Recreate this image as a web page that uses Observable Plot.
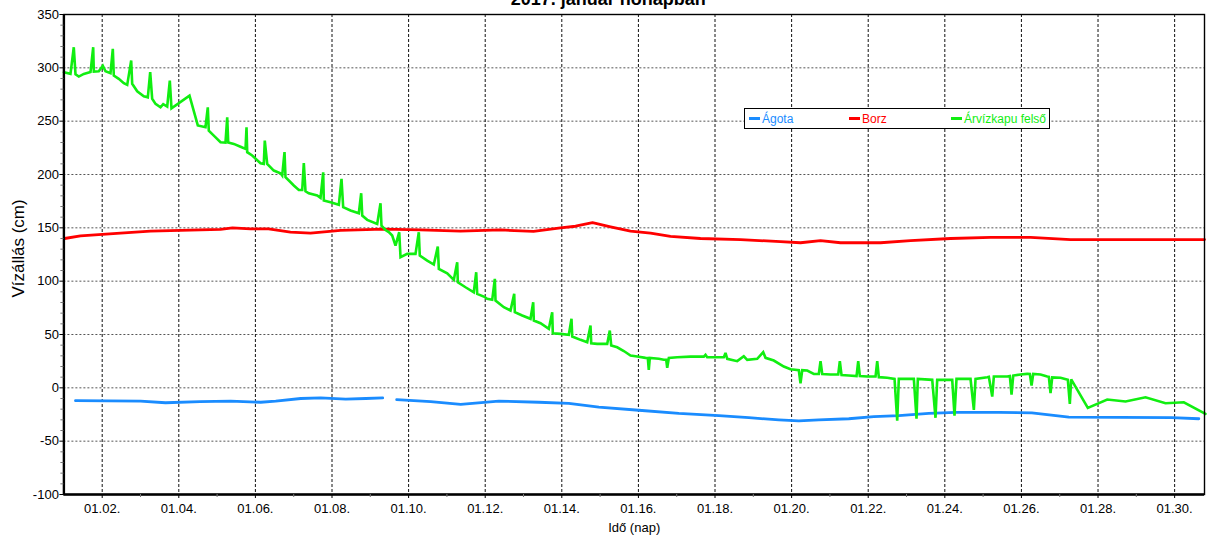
<!DOCTYPE html>
<html><head><meta charset="utf-8">
<script src="https://cdn.jsdelivr.net/npm/d3@7"></script>
<script src="https://cdn.jsdelivr.net/npm/@observablehq/plot@0.6"></script>
<style>
html,body{margin:0;padding:0;background:#fff;}
#wrap{position:relative;width:1208px;height:537px;overflow:hidden;}
#legend{position:absolute;left:744px;top:108px;width:306px;height:21px;border:1px solid #000;background:#fff;box-sizing:border-box;font:12px "Liberation Sans",Arial,sans-serif;}
.item{position:absolute;top:1px;height:19px;line-height:19px;white-space:nowrap;}
.sw{display:inline-block;width:11px;height:3px;vertical-align:middle;margin-right:2px;position:relative;top:-1px;}
</style></head>
<body><div id="wrap"><div id="legend"></div></div>
<script>
const title = "2017. január hónapban";
const yLabel = "Vízállás (cm)";
const xLabel = "Idő (nap)";
const seriesNames = ["Ágota", "Borz", "Árvízkapu felső"];
const seriesColors = ["#1a8cff", "#ff0000", "#11ee11"];

const xTicks = [2,4,6,8,10,12,14,16,18,20,22,24,26,28,30];
const xTickLabels = ["01.02.","01.04.","01.06.","01.08.","01.10.","01.12.","01.14.","01.16.","01.18.","01.20.","01.22.","01.24.","01.26.","01.28.","01.30."];
const xMinorTicks = [3,5,7,9,11,13,15,17,19,21,23,25,27,29];
const yTicks = [-100,-50,0,50,100,150,200,250,300,350];
const yTickLabels = ["-100","-50","0","50","100","150","200","250","300","350"];
const yMinorTicks = [-90,-80,-70,-60,-40,-30,-20,-10,10,20,30,40,60,70,80,90,110,120,130,140,160,170,180,190,210,220,230,240,260,270,280,290,310,320,330,340];

// Ágota (day of January, cm); null = gap
const agotaDay = [1.303,3.000,3.653,4.555,5.355,6.138,6.530,7.183,7.705,8.358,8.880,9.324,9.5,9.689,10.577,11.360,12.355,13.399,14.183,14.966,16.010,17.055,18.099,18.883,19.666,20.188,20.710,21.493,22.146,22.799,23.582,24.287,25.410,26.272,27.238,29.927,30.632];
const agotaVal = [-12,-12.5,-14,-13,-12.5,-13.5,-12.5,-10,-9.5,-10.5,-10,-9.5,null,-11,-13,-15.5,-12.5,-13.5,-14.5,-18,-21,-24,-26,-28,-30,-31,-30,-29,-27,-26,-24,-23,-23,-23.5,-27.5,-28,-29];

// Borz
const borzDay = [1.016,1.433,2.478,3.261,4.567,5.089,5.402,5.872,6.342,6.916,7.439,8.222,9.345,10.311,11.355,12.399,13.261,13.966,14.358,14.802,15.272,15.794,16.316,16.838,17.621,18.666,19.710,20.232,20.755,21.277,22.321,23.104,24.149,25.193,26.238,27.282,28.849,30.781];
const borzVal = [140,142.5,145,147,148,148.5,150,149,149,146,145,147.6,148.8,148,147,148,146.6,150,151.5,154.8,151,147,145,142,140,139,137,136,138,136,136,138,140,141,141,139,139,139];

// Árvízkapu felső
const arvizDay = [1.000,1.172,1.258,1.303,1.389,1.520,1.695,1.765,1.781,1.911,2.016,2.086,2.217,2.277,2.303,2.433,2.564,2.653,2.757,2.783,2.914,3.086,3.191,3.253,3.305,3.392,3.522,3.593,3.697,3.765,3.809,4.279,4.496,4.697,4.757,4.783,4.914,5.089,5.219,5.264,5.290,5.436,5.611,5.742,5.768,5.786,5.916,6.133,6.219,6.245,6.308,6.480,6.655,6.700,6.760,6.786,7.003,7.133,7.222,7.264,7.308,7.394,7.614,7.700,7.770,7.786,7.961,8.178,8.248,8.292,8.483,8.700,8.762,8.789,8.919,9.180,9.266,9.292,9.397,9.483,9.572,9.658,9.755,9.789,9.963,10.180,10.266,10.292,10.486,10.658,10.762,10.789,11.008,11.180,11.269,11.285,11.486,11.702,11.765,11.791,11.963,12.052,12.183,12.251,12.269,12.486,12.661,12.757,12.773,12.966,13.183,13.253,13.269,13.444,13.661,13.749,13.765,13.966,14.183,14.253,14.272,14.488,14.663,14.749,14.768,14.924,15.185,15.253,15.290,15.446,15.619,15.794,15.969,16.185,16.245,16.271,16.298,16.533,16.663,16.726,16.752,16.794,17.013,17.360,17.708,17.752,17.796,18.230,18.274,18.319,18.580,18.752,18.841,19.102,19.258,19.319,19.535,19.796,19.971,20.188,20.232,20.277,20.407,20.580,20.710,20.755,20.799,21.016,21.217,21.259,21.303,21.493,21.695,21.739,21.781,21.974,22.191,22.235,22.277,22.496,22.687,22.757,22.799,23.191,23.261,23.295,23.671,23.757,23.801,24.193,24.253,24.305,24.671,24.758,24.802,25.107,25.149,25.238,25.280,25.630,25.698,25.742,25.786,25.977,26.152,26.220,26.264,26.308,26.499,26.674,26.716,26.760,26.804,27.021,27.212,27.264,27.300,27.734,28.240,28.718,29.240,29.762,30.240,30.805];
const arvizVal = [295.9,294.4,319.3,294,291.8,294.3,296,319.3,296.5,296.8,302,296.8,295,317.8,292.8,289.7,285.6,284,306.8,285,278,273.4,272.4,295.9,271,266.2,263,266,263.7,288,262,274,246,244.3,263,241,236.5,230.3,230,253.7,230,228.7,226,224,244.3,220.9,217.8,210.6,210,231.8,210,203.7,201.2,199,221,197.4,189.7,185.6,185.5,210.6,184.3,182.4,180.3,178,202,175.6,174,171.6,196,169.3,166.2,163.7,182.4,161.5,157.5,153.7,173,152,148,146,142.8,133.4,145.9,122.5,125.6,125.6,145.9,124,119.3,115.6,132.5,111.5,107.4,101.2,117.8,99,94.3,89.6,108.4,88.1,85.6,83.4,82.5,102.2,81.8,75.6,72.5,88.1,70.9,67.8,64.7,80.2,63.1,60.6,55.3,70.9,51.2,50.6,49.7,64.7,48.1,45,42.7,58.4,41.8,41.2,41.2,53.7,39.7,38,34.5,30.3,29.3,28.1,28,16.9,28,27.2,26.3,26.3,18.8,28,28.7,29.3,29.3,31,28.7,28.7,32.8,27.2,25,29.6,26.3,27.2,33.4,28.1,25.6,20,17.5,16.5,4.3,16.5,16.2,13.1,13,25,13,12.5,12.5,25,12,11.5,11,25,11,10.6,10.6,25,10,9.4,8.4,-30.7,8.4,8.4,-29,8.4,7.5,-28.1,7.5,7.5,-26,8.4,8.4,-20.6,8.4,10,10.3,-8.2,10.6,10.6,11,-6.3,11.5,12.5,13.1,13,2.2,13,12.5,10.6,10.3,-5,9.8,9.4,7.5,-15,8,-18.8,-11,-12.8,-8.8,-14.4,-13.5,-24.4];

const toRows = (days, vals) => days.map((d, i) => ({day: d, v: vals[i] == null ? NaN : vals[i]}));
const agota = toRows(agotaDay, agotaVal);
const borz = toRows(borzDay, borzVal);
const arviz = toRows(arvizDay, arvizVal);

const font = '"Liberation Sans", Arial, sans-serif';

const chart = Plot.plot({
  width: 1208, height: 537,
  marginLeft: 63.4, marginRight: 4, marginTop: 14, marginBottom: 43,
  style: {fontFamily: font, fontSize: "13px", background: "white", color: "black", overflow: "hidden"},
  x: {type: "linear", domain: [1, 30.78], label: null},
  y: {domain: [-100, 350], label: null},
  marks: [
    Plot.gridY(yTicks, {stroke: "#555", strokeOpacity: 1, strokeDasharray: "2,2", strokeWidth: 1}),
    Plot.gridX(xTicks, {stroke: "#111", strokeOpacity: 1, strokeDasharray: "3,2", strokeWidth: 1}),
    Plot.line(agota, {x: "day", y: "v", stroke: seriesColors[0], strokeWidth: 2.8}),
    Plot.line(borz, {x: "day", y: "v", stroke: seriesColors[1], strokeWidth: 2.8}),
    Plot.line(arviz, {x: "day", y: "v", stroke: seriesColors[2], strokeWidth: 2.6, strokeLinejoin: "miter", strokeMiterlimit: 3}),
    Plot.frame({stroke: "#000", strokeWidth: 1.4}),
    Plot.ruleX([1], {stroke: "#000", strokeWidth: 2.4}),
    Plot.ruleY([-100], {stroke: "#000", strokeWidth: 2.4}),
    Plot.axisY(yTicks, {tickSize: 4, tickPadding: 1, fontSize: 13, label: null, tickFormat: d => yTickLabels[yTicks.indexOf(d)]}),
    Plot.axisY(yMinorTicks, {tickSize: 3, tickFormat: () => "", label: null, stroke: "#777"}),
    Plot.axisX(xTicks, {tickSize: 4, tickPadding: 5.5, fontSize: 13, label: null, tickFormat: d => xTickLabels[xTicks.indexOf(d)]}),
    Plot.axisX(xMinorTicks, {tickSize: 3, tickFormat: () => "", label: null, stroke: "#777"}),
    Plot.text([yLabel], {frameAnchor: "left", textAnchor: "middle", rotate: -90, dx: -45, dy: -6, fontSize: 17}),
    Plot.text([xLabel], {frameAnchor: "bottom", lineAnchor: "bottom", dy: 37, fontSize: 13}),
    Plot.text([title], {frameAnchor: "top", lineAnchor: "bottom", dx: -26, dy: -10, fontSize: 18, fontWeight: "bold"})
  ]
});
const wrap = document.getElementById("wrap");
wrap.insertBefore(chart, wrap.firstChild);

const legend = document.getElementById("legend");
const lefts = [4, 104, 206];
seriesNames.forEach((name, i) => {
  const it = document.createElement("div");
  it.className = "item";
  it.style.left = lefts[i] + "px";
  it.style.color = seriesColors[i];
  const sw = document.createElement("span");
  sw.className = "sw";
  sw.style.background = seriesColors[i];
  it.appendChild(sw);
  it.appendChild(document.createTextNode(name));
  legend.appendChild(it);
});
</script>
</body></html>
